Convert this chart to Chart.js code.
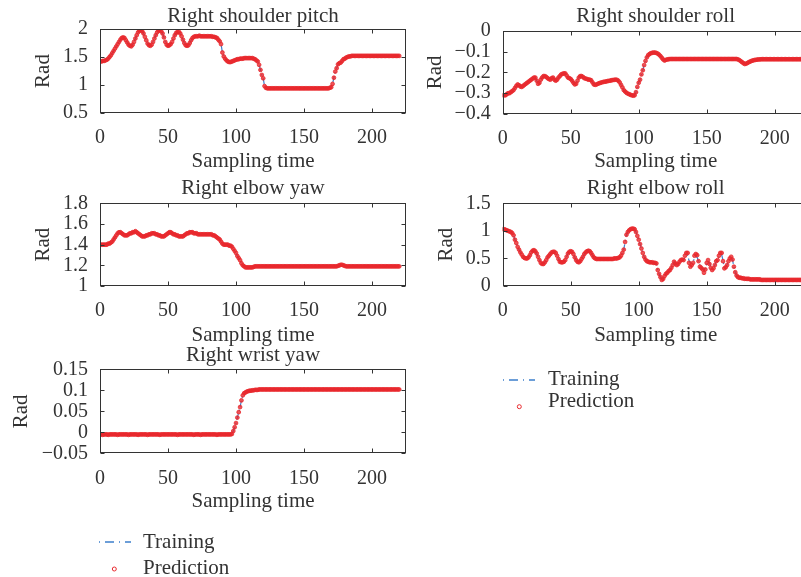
<!DOCTYPE html>
<html><head><meta charset="utf-8">
<script src="https://cdn.jsdelivr.net/npm/chart.js@4.4.1/dist/chart.umd.min.js"></script>
<style>
html,body{margin:0;padding:0;width:801px;height:577px;overflow:hidden;background:#fff;}
canvas{position:absolute;}
.lg{position:absolute;font-family:"Liberation Serif",serif;font-size:21px;line-height:20px;color:#333;white-space:nowrap;}
svg{position:absolute;left:0;top:0;overflow:visible;}
</style></head><body>
<canvas id="c1" width="420" height="180" style="left:0;top:0"></canvas>
<canvas id="c2" width="420" height="180" style="left:420px;top:0"></canvas>
<canvas id="c3" width="420" height="190" style="left:0;top:170px"></canvas>
<canvas id="c4" width="420" height="190" style="left:420px;top:170px"></canvas>
<canvas id="c5" width="420" height="180" style="left:0;top:340px"></canvas>
<svg width="801" height="577">
  <line x1="99" y1="542" x2="131" y2="542" stroke="#3d7fcc" stroke-width="1.3" stroke-dasharray="1,5,9,5,1,5,6"/>
  <circle cx="114.3" cy="569" r="2" fill="none" stroke="#e8282d" stroke-width="1"/>
  <line x1="503" y1="380" x2="535" y2="380" stroke="#3d7fcc" stroke-width="1.3" stroke-dasharray="1,5,9,5,1,5,6"/>
  <circle cx="519.3" cy="406.7" r="2" fill="none" stroke="#e8282d" stroke-width="1"/>
</svg>
<div class="lg" style="left:143px;top:531.2px">Training</div>
<div class="lg" style="left:143px;top:556.9px">Prediction</div>
<div class="lg" style="left:548px;top:367.9px">Training</div>
<div class="lg" style="left:548px;top:390.2px">Prediction</div>
<script>
// x axis: sampling time (sample index 0..220), tick labels
const xTicks = [0, 50, 100, 150, 200];
const titles = ["Right shoulder pitch", "Right shoulder roll", "Right elbow yaw", "Right elbow roll", "Right wrist yaw"];
const seriesNames = ["Training", "Prediction"];

const shoulderPitch = [
1.42,1.42,1.43,1.43,1.44,1.45,1.47,1.50,1.53,1.57,
1.61,1.65,1.69,1.73,1.77,1.81,1.84,1.85,1.84,1.80,
1.76,1.72,1.70,1.69,1.72,1.77,1.83,1.89,1.94,1.97,
1.98,1.96,1.92,1.86,1.80,1.74,1.71,1.70,1.72,1.77,
1.83,1.89,1.94,1.97,1.98,1.96,1.92,1.85,1.77,1.72,
1.70,1.71,1.73,1.77,1.83,1.89,1.93,1.95,1.95,1.92,
1.87,1.81,1.75,1.71,1.70,1.71,1.75,1.80,1.84,1.86,
1.87,1.87,1.87,1.88,1.87,1.87,1.87,1.87,1.87,1.87,
1.87,1.87,1.87,1.86,1.86,1.85,1.84,1.81,1.78,1.73,
1.58,1.51,1.47,1.44,1.42,1.41,1.41,1.42,1.43,1.44,
1.45,1.46,1.46,1.47,1.47,1.47,1.48,1.48,1.48,1.48,
1.48,1.48,1.48,1.47,1.46,1.44,1.42,1.36,1.27,1.18,
1.12,0.98,0.95,0.94,0.94,0.94,0.94,0.94,0.94,0.94,
0.94,0.94,0.94,0.94,0.94,0.94,0.94,0.94,0.94,0.94,
0.94,0.94,0.94,0.94,0.94,0.94,0.94,0.94,0.94,0.94,
0.94,0.94,0.94,0.94,0.94,0.94,0.94,0.94,0.94,0.94,
0.94,0.94,0.94,0.94,0.94,0.94,0.94,0.94,0.94,0.95,
0.96,1.02,1.13,1.24,1.30,1.37,1.39,1.40,1.43,1.46,
1.47,1.49,1.50,1.51,1.51,1.52,1.52,1.52,1.52,1.52,
1.52,1.52,1.52,1.52,1.52,1.52,1.52,1.52,1.52,1.52,
1.52,1.52,1.52,1.52,1.52,1.52,1.52,1.52,1.52,1.52,
1.52,1.52,1.52,1.52,1.52,1.52,1.52,1.52,1.52,1.52,
1.52];

const shoulderRoll = [
-0.310,-0.310,-0.310,-0.305,-0.300,-0.300,-0.295,-0.290,-0.285,-0.275,
-0.265,-0.258,-0.262,-0.268,-0.270,-0.265,-0.260,-0.255,-0.250,-0.245,
-0.240,-0.235,-0.230,-0.225,-0.225,-0.240,-0.255,-0.250,-0.235,-0.225,
-0.218,-0.218,-0.222,-0.228,-0.232,-0.235,-0.228,-0.225,-0.235,-0.240,
-0.235,-0.225,-0.218,-0.210,-0.207,-0.205,-0.205,-0.215,-0.225,-0.228,
-0.232,-0.240,-0.250,-0.258,-0.255,-0.240,-0.225,-0.218,-0.218,-0.222,
-0.228,-0.230,-0.232,-0.235,-0.235,-0.238,-0.248,-0.258,-0.260,-0.258,
-0.255,-0.252,-0.250,-0.248,-0.246,-0.245,-0.244,-0.242,-0.241,-0.240,
-0.238,-0.237,-0.236,-0.235,-0.236,-0.240,-0.248,-0.260,-0.272,-0.285,
-0.292,-0.298,-0.302,-0.305,-0.308,-0.310,-0.312,-0.310,-0.295,-0.270,
-0.250,-0.235,-0.210,-0.190,-0.165,-0.145,-0.128,-0.117,-0.112,-0.108,
-0.106,-0.105,-0.105,-0.107,-0.110,-0.115,-0.122,-0.130,-0.138,-0.143,
-0.140,-0.138,-0.137,-0.136,-0.136,-0.136,-0.136,-0.136,-0.136,-0.136,
-0.136,-0.136,-0.136,-0.136,-0.136,-0.136,-0.136,-0.136,-0.136,-0.136,
-0.136,-0.136,-0.136,-0.136,-0.136,-0.136,-0.136,-0.136,-0.136,-0.136,
-0.136,-0.136,-0.136,-0.136,-0.136,-0.136,-0.136,-0.136,-0.136,-0.136,
-0.136,-0.136,-0.136,-0.136,-0.136,-0.136,-0.136,-0.136,-0.136,-0.136,
-0.136,-0.136,-0.136,-0.138,-0.141,-0.146,-0.151,-0.156,-0.160,-0.158,
-0.155,-0.151,-0.148,-0.145,-0.143,-0.141,-0.140,-0.139,-0.138,-0.138,
-0.137,-0.137,-0.137,-0.137,-0.137,-0.137,-0.137,-0.137,-0.137,-0.137,
-0.137,-0.137,-0.137,-0.137,-0.137,-0.137,-0.137,-0.137,-0.137,-0.137,
-0.137,-0.137,-0.137,-0.137,-0.137,-0.137,-0.137,-0.137,-0.137,-0.137,
-0.137];

const elbowYaw = [
1.40,1.40,1.40,1.40,1.40,1.40,1.41,1.41,1.42,1.43,
1.45,1.47,1.49,1.51,1.52,1.52,1.51,1.50,1.49,1.49,
1.49,1.50,1.51,1.51,1.52,1.52,1.53,1.52,1.51,1.50,
1.49,1.48,1.48,1.48,1.49,1.49,1.50,1.50,1.51,1.51,
1.51,1.50,1.50,1.49,1.49,1.48,1.48,1.48,1.49,1.50,
1.51,1.52,1.52,1.51,1.50,1.50,1.49,1.49,1.48,1.48,
1.48,1.48,1.49,1.50,1.51,1.51,1.52,1.52,1.52,1.51,
1.51,1.51,1.50,1.50,1.50,1.50,1.50,1.50,1.50,1.50,
1.50,1.50,1.50,1.49,1.49,1.48,1.47,1.46,1.45,1.43,
1.41,1.40,1.40,1.40,1.40,1.39,1.39,1.38,1.36,1.34,
1.32,1.29,1.27,1.25,1.22,1.20,1.19,1.18,1.18,1.18,
1.18,1.18,1.18,1.185,1.19,1.19,1.19,1.19,1.19,1.19,
1.19,1.19,1.19,1.19,1.19,1.19,1.19,1.19,1.19,1.19,
1.19,1.19,1.19,1.19,1.19,1.19,1.19,1.19,1.19,1.19,
1.19,1.19,1.19,1.19,1.19,1.19,1.19,1.19,1.19,1.19,
1.19,1.19,1.19,1.19,1.19,1.19,1.19,1.19,1.19,1.19,
1.19,1.19,1.19,1.19,1.19,1.19,1.19,1.19,1.19,1.19,
1.19,1.19,1.19,1.19,1.19,1.195,1.20,1.205,1.205,1.20,
1.195,1.19,1.19,1.19,1.19,1.19,1.19,1.19,1.19,1.19,
1.19,1.19,1.19,1.19,1.19,1.19,1.19,1.19,1.19,1.19,
1.19,1.19,1.19,1.19,1.19,1.19,1.19,1.19,1.19,1.19,
1.19,1.19,1.19,1.19,1.19,1.19,1.19,1.19,1.19,1.19,
1.19];

const elbowRollPred = [
1.03,1.03,1.02,1.01,1.00,0.99,0.98,0.96,0.92,0.84,
0.78,0.71,0.66,0.61,0.57,0.53,0.51,0.50,0.50,0.52,
0.56,0.61,0.64,0.65,0.63,0.59,0.53,0.47,0.42,0.40,
0.40,0.43,0.47,0.52,0.55,0.58,0.61,0.62,0.62,0.60,
0.55,0.49,0.44,0.43,0.43,0.44,0.47,0.53,0.59,0.62,
0.63,0.62,0.58,0.52,0.47,0.44,0.43,0.45,0.49,0.53,
0.58,0.61,0.63,0.64,0.63,0.60,0.56,0.52,0.50,0.49,
0.49,0.49,0.49,0.49,0.49,0.49,0.49,0.49,0.49,0.49,
0.49,0.49,0.50,0.50,0.50,0.51,0.52,0.55,0.60,0.66,
0.80,0.93,0.98,1.01,1.03,1.04,1.04,1.03,0.98,0.91,
0.84,0.76,0.68,0.60,0.53,0.48,0.45,0.44,0.43,0.43,
0.43,0.42,0.42,0.41,0.29,0.22,0.16,0.11,0.13,0.18,
0.22,0.24,0.27,0.29,0.33,0.38,0.44,0.41,0.38,0.40,
0.44,0.47,0.48,0.47,0.55,0.60,0.60,0.42,0.35,0.38,
0.42,0.55,0.58,0.56,0.45,0.35,0.33,0.30,0.24,0.30,
0.42,0.47,0.40,0.33,0.29,0.32,0.38,0.45,0.47,0.55,
0.60,0.60,0.45,0.32,0.34,0.38,0.45,0.50,0.53,0.48,
0.35,0.25,0.19,0.16,0.15,0.15,0.14,0.14,0.13,0.13,
0.13,0.13,0.12,0.12,0.12,0.12,0.12,0.12,0.12,0.12,
0.11,0.11,0.11,0.11,0.11,0.11,0.11,0.11,0.11,0.11,
0.11,0.11,0.11,0.11,0.11,0.11,0.11,0.11,0.11,0.11,
0.11,0.11,0.11,0.11,0.11,0.11,0.11,0.11,0.11,0.11,
0.11];

const elbowRollTrain = [
1.03,1.03,1.02,1.01,1.00,0.99,0.98,0.96,0.92,0.84,
0.78,0.71,0.66,0.61,0.57,0.53,0.51,0.50,0.50,0.52,
0.56,0.61,0.64,0.65,0.63,0.59,0.53,0.47,0.42,0.40,
0.40,0.43,0.47,0.52,0.55,0.58,0.61,0.62,0.62,0.60,
0.55,0.49,0.44,0.43,0.43,0.44,0.47,0.53,0.59,0.62,
0.63,0.62,0.58,0.52,0.47,0.44,0.43,0.45,0.49,0.53,
0.58,0.61,0.63,0.64,0.63,0.60,0.56,0.52,0.50,0.49,
0.49,0.49,0.49,0.49,0.49,0.49,0.49,0.49,0.49,0.49,
0.49,0.49,0.50,0.50,0.50,0.51,0.52,0.55,0.60,0.66,
0.80,0.93,0.98,1.01,1.03,1.04,1.04,1.03,0.98,0.91,
0.84,0.76,0.68,0.60,0.53,0.48,0.45,0.44,0.43,0.43,
0.43,0.42,0.42,0.41,0.29,0.22,0.16,0.11,0.13,0.18,
0.22,0.24,0.27,0.29,0.33,0.38,0.44,0.41,0.38,0.40,
0.44,0.47,0.48,0.47,0.52,0.55,0.56,0.46,0.42,0.42,
0.44,0.50,0.53,0.52,0.45,0.38,0.35,0.31,0.28,0.32,
0.40,0.45,0.42,0.35,0.30,0.33,0.38,0.44,0.47,0.53,
0.57,0.57,0.46,0.34,0.35,0.39,0.45,0.49,0.52,0.47,
0.35,0.25,0.19,0.16,0.15,0.15,0.14,0.14,0.13,0.13,
0.13,0.13,0.12,0.12,0.12,0.12,0.12,0.12,0.12,0.12,
0.11,0.11,0.11,0.11,0.11,0.11,0.11,0.11,0.11,0.11,
0.11,0.11,0.11,0.11,0.11,0.11,0.11,0.11,0.11,0.11,
0.11,0.11,0.11,0.11,0.11,0.11,0.11,0.11,0.11,0.11,
0.11];

const wristYaw = [
-0.005,-0.005,-0.006,-0.005,-0.005,-0.005,-0.006,-0.005,-0.005,-0.005,
-0.005,-0.005,-0.005,-0.006,-0.005,-0.005,-0.005,-0.005,-0.005,-0.005,
-0.005,-0.006,-0.005,-0.005,-0.005,-0.005,-0.005,-0.005,-0.006,-0.005,
-0.005,-0.005,-0.005,-0.005,-0.005,-0.006,-0.005,-0.005,-0.005,-0.005,
-0.005,-0.005,-0.005,-0.005,-0.006,-0.005,-0.005,-0.005,-0.005,-0.005,
-0.005,-0.005,-0.005,-0.005,-0.005,-0.005,-0.005,-0.006,-0.005,-0.005,
-0.005,-0.005,-0.005,-0.005,-0.005,-0.005,-0.005,-0.005,-0.005,-0.006,
-0.005,-0.005,-0.005,-0.005,-0.006,-0.005,-0.005,-0.005,-0.005,-0.005,
-0.005,-0.005,-0.005,-0.005,-0.005,-0.005,-0.006,-0.005,-0.005,-0.005,
-0.005,-0.005,-0.005,-0.005,-0.005,-0.005,-0.005,-0.004,0.003,0.012,
0.022,0.035,0.048,0.060,0.076,0.088,0.093,0.095,0.097,0.098,
0.099,0.099,0.100,0.100,0.101,0.101,0.101,0.102,0.102,0.102,
0.102,0.102,0.102,0.102,0.102,0.102,0.102,0.102,0.102,0.102,
0.102,0.102,0.102,0.102,0.102,0.102,0.102,0.102,0.102,0.102,
0.102,0.102,0.102,0.102,0.102,0.102,0.102,0.102,0.102,0.102,
0.102,0.102,0.102,0.102,0.102,0.102,0.102,0.102,0.102,0.102,
0.102,0.102,0.102,0.102,0.102,0.102,0.102,0.102,0.102,0.102,
0.102,0.102,0.102,0.102,0.102,0.102,0.102,0.102,0.102,0.102,
0.102,0.102,0.102,0.102,0.102,0.102,0.102,0.102,0.102,0.102,
0.102,0.102,0.102,0.102,0.102,0.102,0.102,0.102,0.102,0.102,
0.102,0.102,0.102,0.102,0.102,0.102,0.102,0.102,0.102,0.102,
0.102,0.102,0.102,0.102,0.102,0.102,0.102,0.102,0.102,0.102,
0.102];

const FONT = "'Liberation Serif', 'Times New Roman', serif";
const TXT = '#333333';
Chart.defaults.font.family = FONT;
Chart.defaults.color = TXT;

const frame = {
  id: 'frame',
  afterDatasetsDraw(chart) {
    const {ctx, chartArea: a, scales: {x, y}} = chart;
    const L = Math.round(a.left) + 0.5, R = Math.round(a.right) - 0.5;
    const T = Math.round(a.top) + 0.5, B = Math.round(a.bottom) - 0.5;
    const len = 4;
    ctx.save();
    ctx.strokeStyle = '#333';
    ctx.lineWidth = 1;
    ctx.strokeRect(L, T, R - L, B - T);
    ctx.beginPath();
    x.ticks.forEach(t => {
      const px = Math.round(x.getPixelForValue(t.value)) + 0.5;
      ctx.moveTo(px, B); ctx.lineTo(px, B - len);
      ctx.moveTo(px, T); ctx.lineTo(px, T + len);
    });
    y.ticks.forEach(t => {
      const py = Math.round(y.getPixelForValue(t.value)) + 0.5;
      ctx.moveTo(L, py); ctx.lineTo(L + len, py);
      ctx.moveTo(R, py); ctx.lineTo(R - len, py);
    });
    ctx.stroke();
    ctx.restore();
  }
};

function fmt(v) {
  return String(Math.round(v * 1000) / 1000).replace('-', '\u2212');
}

function makeChart(id, c) {
  const toPts = arr => arr.map((v, i) => ({x: i, y: v}));
  new Chart(document.getElementById(id), {
    type: 'line',
    data: {
      datasets: [
        {label: seriesNames[1], data: toPts(c.pred), showLine: false, order: 0,
         pointRadius: 1.9, pointBorderWidth: 0.8, pointBackgroundColor: 'rgba(232,40,45,0.8)', pointBorderColor: '#e8282d'},
        {label: seriesNames[0], data: toPts(c.train), order: 1, pointRadius: 0,
         borderColor: '#3d7fcc', borderWidth: 1.2, borderDash: [6, 3, 1.5, 3], tension: 0}
      ]
    },
    options: {
      responsive: false, animation: false, events: [],
      layout: {padding: {left: 0, right: c.padR, top: 0, bottom: 0}},
      plugins: {
        legend: {display: false}, tooltip: {enabled: false},
        title: {display: true, text: c.title, fullSize: false, color: TXT,
                font: {family: FONT, size: 21, weight: 'normal'}, padding: c.titlePad}
      },
      scales: {
        x: {type: 'linear', min: 0, max: 225,
            grid: {display: false}, border: {display: false},
            afterBuildTicks: s => { s.ticks = xTicks.map(v => ({value: v})); },
            ticks: {padding: 5, color: TXT, font: {size: 20}, maxRotation: 0, autoSkip: false, callback: fmt},
            title: {display: true, text: 'Sampling time', color: TXT, font: {size: 21}, padding: {top: 0, bottom: c.xtPad}},
            afterFit: s => { s.height = c.xH; }},
        y: {type: 'linear', min: c.ymin, max: c.ymax,
            grid: {display: false}, border: {display: false},
            ticks: {stepSize: c.ystep, includeBounds: false, autoSkip: false, padding: 4, color: TXT, font: {size: 20}, callback: fmt},
            title: {display: true, text: 'Rad', color: TXT, font: {size: 21}, padding: {top: c.ytPad, bottom: 0}},
            afterFit: s => { s.width = c.yW; }}
      }
    },
    plugins: [frame]
  });
}

makeChart('c1', {title: titles[0], train: shoulderPitch, pred: shoulderPitch, ymin: 0.5, ymax: 2, ystep: 0.5,
  padR: 14, titlePad: {top: 3.8, bottom: 0}, yW: 100, xH: 67, xtPad: 5.8, ytPad: 31});
makeChart('c2', {title: titles[1], train: shoulderRoll, pred: shoulderRoll, ymin: -0.4, ymax: 0, ystep: 0.1,
  padR: 31.3, titlePad: {top: 4, bottom: 1.5}, yW: 82.7, xH: 66, xtPad: 5.8, ytPad: 2.7});
makeChart('c3', {title: titles[2], train: elbowYaw, pred: elbowYaw, ymin: 1, ymax: 1.8, ystep: 0.2,
  padR: 14, titlePad: {top: 6.3, bottom: 1.8}, yW: 100, xH: 74, xtPad: 11.5, ytPad: 31});
makeChart('c4', {title: titles[3], train: elbowRollTrain, pred: elbowRollPred, ymin: 0, ymax: 1.5, ystep: 0.5,
  padR: 31.3, titlePad: {top: 6.3, bottom: 1.8}, yW: 82.7, xH: 74, xtPad: 11.5, ytPad: 14.3});
makeChart('c5', {title: titles[4], train: wristYaw, pred: wristYaw, ymin: -0.05, ymax: 0.15, ystep: 0.05,
  padR: 14, titlePad: {top: 3, bottom: 1.1}, yW: 100, xH: 66.7, xtPad: 5.5, ytPad: 9.3});
</script>
</body></html>
